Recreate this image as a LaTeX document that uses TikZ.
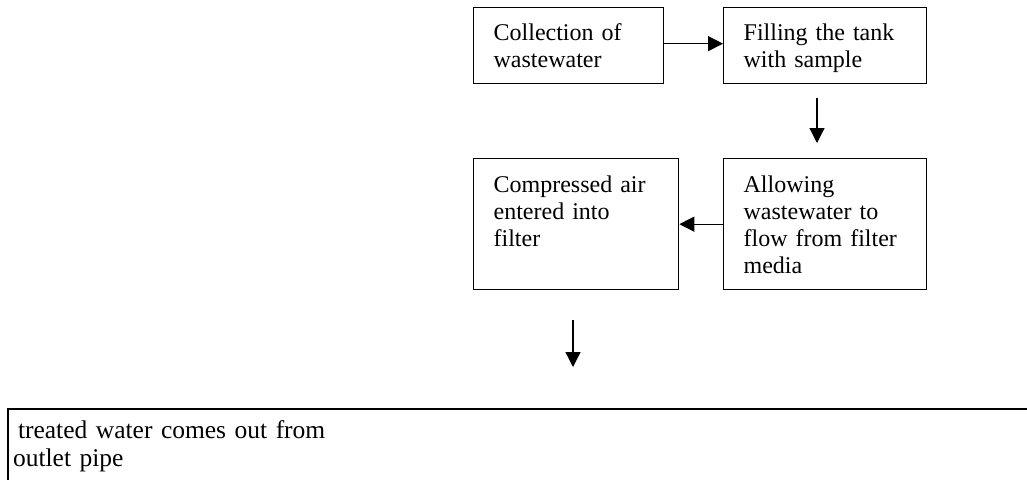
\documentclass[tikz,border=0pt]{standalone}
\usepackage{fontspec}
\setmainfont{Liberation Serif}
\usetikzlibrary{arrows.meta}
\begin{document}
\begin{tikzpicture}[x=1pt,y=1pt,
  every node/.style={font=\fontsize{24}{27}\selectfont},
  stepbox/.style={draw, line width=1.3pt, anchor=north west, inner ysep=0pt, inner xsep=20pt, align=left},
  flow/.style={line width=1.3pt, -{Triangle[length=15pt,width=15pt]}}]
\useasboundingbox (0,0) rectangle (1027,-479);
\clip (0,0) rectangle (1027,-479);
\fill[white] (0,0) rectangle (1027,-479);
% top row
\node[stepbox, text width=150pt, text height=33pt, text depth=43pt] (b1) at (473,-7) {Collection of\\wastewater};
\node[stepbox, text width=163pt, text height=33pt, text depth=43pt] (b2) at (723,-7) {Filling the tank\\with sample};
% middle row
\node[stepbox, text width=165pt, text height=34pt, text depth=97pt] (b3) at (473,-158) {Compressed air\\entered into\\filter};
\node[stepbox, text width=163pt, text height=34pt, text depth=97pt] (b4) at (723,-158) {Allowing\\wastewater to\\flow from filter\\media};
% bottom box
\node[draw, line width=2pt, anchor=north west, inner ysep=0pt, inner xsep=5pt, align=left,
      text width=1100pt, text height=29pt, text depth=80pt,
      font=\fontsize{25.5}{28}\selectfont] (b5) at (7,-408) {\hspace{5pt}treated water comes out from\\outlet pipe};
% connectors
\draw[flow] ([yshift=2pt]b1.east) -- ([yshift=2pt]b2.west);
\draw[flow] (b4.west) -- (b3.east);
\coordinate (d1s) at (817,-98);
\coordinate (d1e) at (817,-143);
\draw[flow] (d1s) -- (d1e);
\coordinate (d2s) at (573,-320);
\coordinate (d2e) at (573,-367);
\draw[flow] (d2s) -- (d2e);
\end{tikzpicture}
\end{document}
